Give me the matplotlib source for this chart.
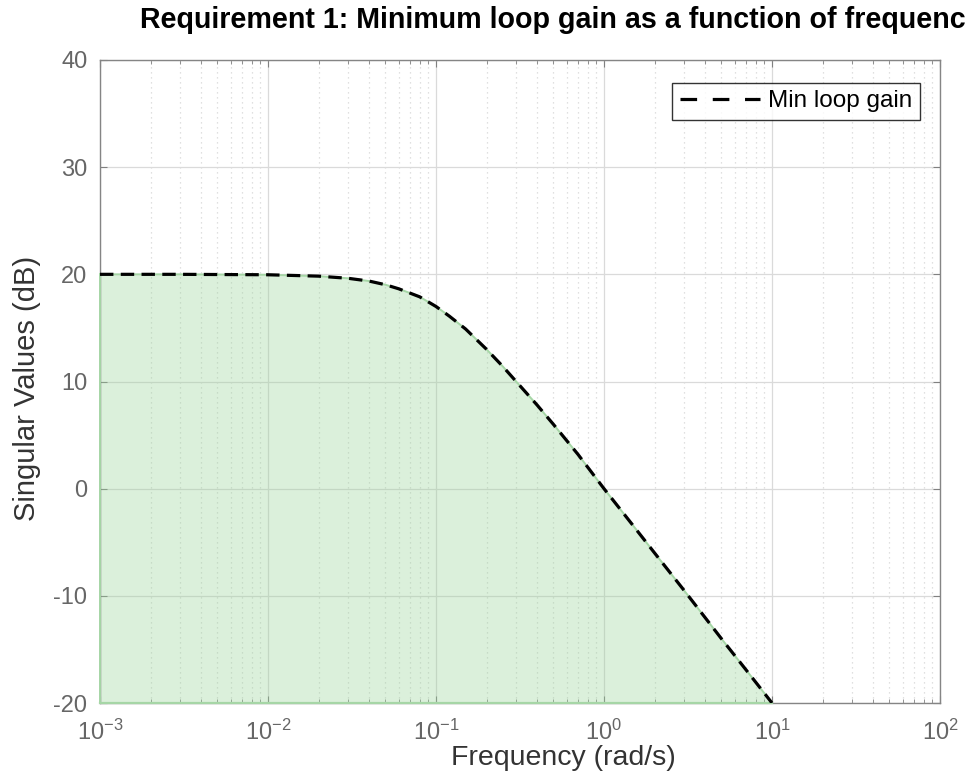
import numpy as np
import matplotlib.pyplot as plt
from matplotlib.ticker import LogLocator, FixedLocator

plt.rcParams['font.family'] = ['Liberation Sans', 'DejaVu Sans']
plt.rcParams['axes.unicode_minus'] = False

# 最小回路增益曲线
freq = [1e-3, 3e-3, 1e-2, 0.02, 0.03, 0.04, 0.05, 0.06, 0.07, 0.08, 0.1, 0.12, 0.15,
        0.2, 0.25, 0.3, 0.4, 0.5, 0.7, 1.0, 1.5, 2.0, 3.0, 5.0, 7.0, 10.0]
gain_db = [20.0, 20.0, 19.96, 19.83, 19.63, 19.37, 19.03, 18.65, 18.25, 17.9, 17.0, 16.1, 14.9,
           13.0, 11.4, 10.0, 7.8, 6.0, 3.2, 0.0, -3.5, -6.0, -9.5, -14.0, -16.9, -20.0]

x_ticks = [1e-3, 1e-2, 1e-1, 1e0, 1e1, 1e2]
x_tick_labels = [r'$\mathregular{10^{-3}}$', r'$\mathregular{10^{-2}}$', r'$\mathregular{10^{-1}}$',
                 r'$\mathregular{10^{0}}$', r'$\mathregular{10^{1}}$', r'$\mathregular{10^{2}}$']
y_ticks = [-20, -10, 0, 10, 20, 30, 40]

fig = plt.figure(figsize=(9.65, 7.76), dpi=100)
ax = fig.add_axes([100/965, 1-703/776, 840/965, 643/776])

# 填充区域（半透明，网格线透出来）
ax.fill_between(freq, -20, gain_db, facecolor=(0.6, 0.83, 0.6), alpha=0.35, linewidth=0, zorder=1)
ax.plot(freq + [1e-3, 1e-3], gain_db + [-20, 20], color='#a6d6a6', linewidth=1.4,
        zorder=2.6, clip_on=False)
ax.plot([1e-3, 10], [-20, -20], color='#a6d6a6', linewidth=1.6, zorder=2.6, clip_on=False)
line, = ax.plot(freq, gain_db, color='black', linestyle='--', linewidth=2.3, dashes=(4.2, 2.3),
                label='Min loop gain', zorder=3)

ax.set_xscale('log')
ax.set_xlim(1e-3, 1e2)
ax.set_ylim(-20, 40)
ax.set_xticks(x_ticks)
ax.set_xticklabels(x_tick_labels)
ax.xaxis.set_minor_locator(LogLocator(base=10, subs=np.arange(2, 10), numticks=20))
ax.xaxis.set_minor_formatter(plt.NullFormatter())
ax.set_yticks(y_ticks)
ax.yaxis.set_minor_locator(FixedLocator([]))

ax.grid(True, which='major', color='#dadada', linestyle='-', linewidth=0.9, zorder=0)
ax.grid(True, which='minor', axis='x', color='#d6d6d6', linestyle=(0, (1, 3)), linewidth=0.9, zorder=0)
ax.set_axisbelow(True)

ax.tick_params(which='both', direction='in', top=True, right=True, colors='#808080',
               labelcolor='#666666', labelsize=17)
ax.tick_params(which='major', length=5)
ax.tick_params(which='minor', length=3)
ax.tick_params(axis='x', pad=12)
ax.tick_params(axis='y', pad=9)
for s in ax.spines.values():
    s.set_color('#858585')
    s.set_linewidth(1.0)

ax.set_xlabel('Frequency (rad/s)', fontsize=20.5, color='#333333', labelpad=0)
ax.xaxis.label.set_x((563 - 100) / 840)
ax.set_ylabel('Singular Values (dB)', fontsize=21, color='#333333', labelpad=9)
ax.yaxis.label.set_y((703 - 388) / 643)
fig.text(140/965, 1-28/776, 'Requirement 1: Minimum loop gain as a function of frequency',
         fontsize=20.6, fontweight='bold', ha='left', va='baseline', color='black')

leg = ax.legend(loc='upper right', bbox_to_anchor=(1-20/840, 1-23/643), fontsize=17.5,
                frameon=True, fancybox=False, handlelength=3.3, handletextpad=0.35,
                borderpad=0.3, borderaxespad=0)
leg.get_frame().set_edgecolor('black')
leg.get_frame().set_linewidth(1.0)
leg.get_lines()[0].set_dashes((5.2, 4.9))

fig.savefig('out.png', dpi=100)
